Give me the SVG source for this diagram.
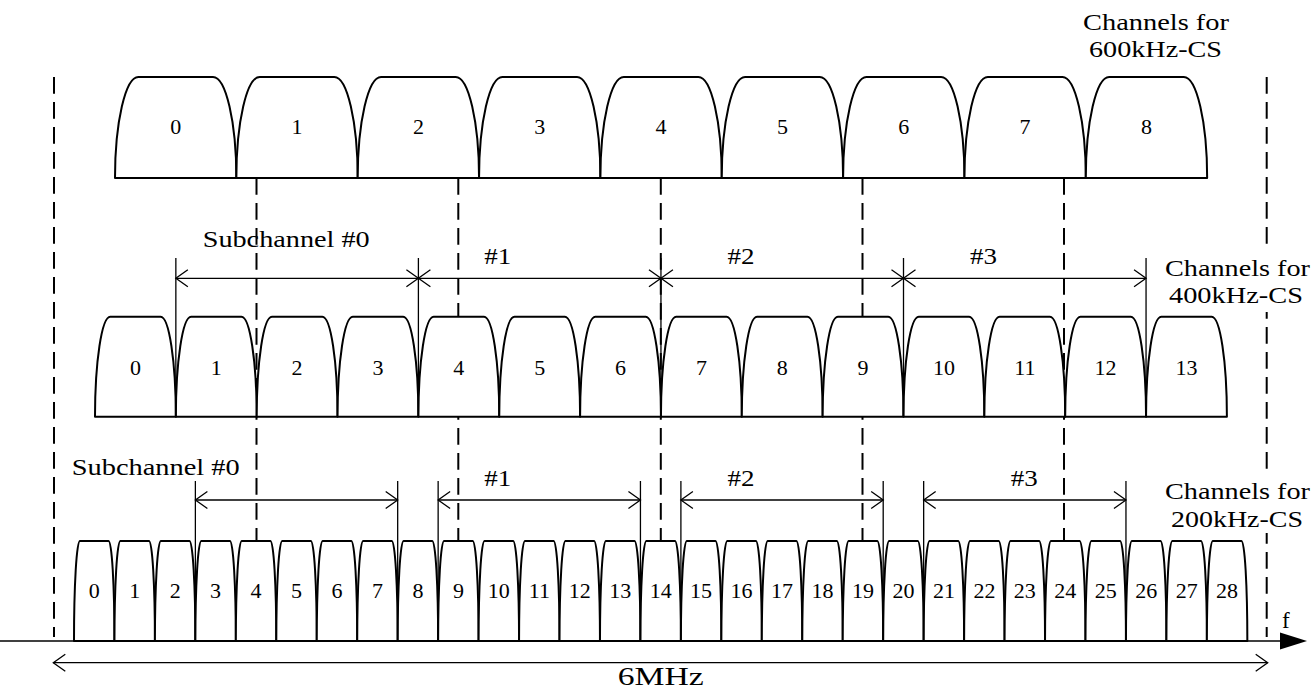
<svg xmlns="http://www.w3.org/2000/svg" xmlns:xlink="http://www.w3.org/1999/xlink" width="1315" height="692" viewBox="0 0 1315 692">
<style>
.ch{fill:#fff;stroke:#000;stroke-width:2;stroke-linejoin:round}
.dash{fill:none;stroke:#000;stroke-width:2;stroke-dasharray:16.7 8.3}
.thin{fill:none;stroke:#000;stroke-width:1.3}
.ar{fill:none;stroke:#000;stroke-width:1.3;marker-start:url(#chev);marker-end:url(#chev)}
.num{font-family:"Liberation Serif","Times New Roman",Times,serif;font-size:22px;text-anchor:middle;fill:#000}
.lbl{font-family:"Liberation Serif","Times New Roman",Times,serif;font-size:24px;fill:#000}
.bg{fill:#fff;stroke:none}
</style>
<defs>
<marker id="chev" markerUnits="userSpaceOnUse" viewBox="0 0 14 20" refX="13" refY="10" markerWidth="14" markerHeight="20" orient="auto-start-reverse" overflow="visible"><path d="M1,1.5 L13,10 L1,18.5" fill="none" stroke="#000" stroke-width="1.3"/></marker>
<marker id="tri" markerUnits="userSpaceOnUse" viewBox="0 0 27 18" refX="1" refY="9" markerWidth="27" markerHeight="18" orient="auto" overflow="visible"><path d="M0,0.5 L27,9 L0,17.5 Z" fill="#000"/></marker>
<path id="s600" class="ch" d="M0,178 A23.35,101 0 0 1 23.35,77 L98,77 A23.35,101 0 0 1 121.35,178 Z"/>
<path id="s400" class="ch" d="M0,416.7 A15.2,100 0 0 1 15.2,316.7 L65.65,316.7 A15.2,100 0 0 1 80.85,416.7 Z"/>
<path id="s200" class="ch" d="M0,641 A5.8,100 0 0 1 5.8,541 L34.66,541 A5.8,100 0 0 1 40.46,641 Z"/>
</defs>
<rect width="1315" height="692" fill="#fff"/>

<g id="guides">
<line class="dash" x1="54" y1="77" x2="54" y2="637"/>
<line class="dash" x1="1266.7" y1="77" x2="1266.7" y2="637"/>
<line class="dash" x1="256.5" y1="178" x2="256.5" y2="540"/>
<line class="dash" x1="458.3" y1="178" x2="458.3" y2="540"/>
<line class="dash" x1="660.8" y1="178" x2="660.8" y2="540"/>
<line class="dash" x1="862.5" y1="178" x2="862.5" y2="540"/>
<line class="dash" x1="1064" y1="178" x2="1064" y2="540"/>
</g>

<g id="row600">
<g id="c600-0"><use xlink:href="#s600" x="115"/><text class="num" x="175.7" y="134.3">0</text></g>
<g id="c600-1"><use xlink:href="#s600" x="236.35"/><text class="num" x="297" y="134.3">1</text></g>
<g id="c600-2"><use xlink:href="#s600" x="357.7"/><text class="num" x="418.4" y="134.3">2</text></g>
<g id="c600-3"><use xlink:href="#s600" x="479.05"/><text class="num" x="539.7" y="134.3">3</text></g>
<g id="c600-4"><use xlink:href="#s600" x="600.4"/><text class="num" x="661.1" y="134.3">4</text></g>
<g id="c600-5"><use xlink:href="#s600" x="721.75"/><text class="num" x="782.4" y="134.3">5</text></g>
<g id="c600-6"><use xlink:href="#s600" x="843.1"/><text class="num" x="903.8" y="134.3">6</text></g>
<g id="c600-7"><use xlink:href="#s600" x="964.45"/><text class="num" x="1025.1" y="134.3">7</text></g>
<g id="c600-8"><use xlink:href="#s600" x="1085.8"/><text class="num" x="1146.5" y="134.3">8</text></g>
</g>

<g id="row400">
<g id="c400-0"><use xlink:href="#s400" x="95"/><text class="num" x="135.4" y="375">0</text></g>
<g id="c400-1"><use xlink:href="#s400" x="175.85"/><text class="num" x="216.3" y="375">1</text></g>
<g id="c400-2"><use xlink:href="#s400" x="256.7"/><text class="num" x="297.1" y="375">2</text></g>
<g id="c400-3"><use xlink:href="#s400" x="337.55"/><text class="num" x="378" y="375">3</text></g>
<g id="c400-4"><use xlink:href="#s400" x="418.4"/><text class="num" x="458.8" y="375">4</text></g>
<g id="c400-5"><use xlink:href="#s400" x="499.25"/><text class="num" x="539.7" y="375">5</text></g>
<g id="c400-6"><use xlink:href="#s400" x="580.1"/><text class="num" x="620.5" y="375">6</text></g>
<g id="c400-7"><use xlink:href="#s400" x="660.95"/><text class="num" x="701.4" y="375">7</text></g>
<g id="c400-8"><use xlink:href="#s400" x="741.8"/><text class="num" x="782.2" y="375">8</text></g>
<g id="c400-9"><use xlink:href="#s400" x="822.65"/><text class="num" x="863.1" y="375">9</text></g>
<g id="c400-10"><use xlink:href="#s400" x="903.5"/><text class="num" x="943.9" y="375">10</text></g>
<g id="c400-11"><use xlink:href="#s400" x="984.35"/><text class="num" x="1024.8" y="375">11</text></g>
<g id="c400-12"><use xlink:href="#s400" x="1065.2"/><text class="num" x="1105.6" y="375">12</text></g>
<g id="c400-13"><use xlink:href="#s400" x="1146.05"/><text class="num" x="1186.5" y="375">13</text></g>
</g>

<g id="row200">
<g id="c200-0"><use xlink:href="#s200" x="74"/><text class="num" x="94.2" y="598">0</text></g>
<g id="c200-1"><use xlink:href="#s200" x="114.46"/><text class="num" x="134.7" y="598">1</text></g>
<g id="c200-2"><use xlink:href="#s200" x="154.92"/><text class="num" x="175.2" y="598">2</text></g>
<g id="c200-3"><use xlink:href="#s200" x="195.38"/><text class="num" x="215.6" y="598">3</text></g>
<g id="c200-4"><use xlink:href="#s200" x="235.84"/><text class="num" x="256.1" y="598">4</text></g>
<g id="c200-5"><use xlink:href="#s200" x="276.3"/><text class="num" x="296.5" y="598">5</text></g>
<g id="c200-6"><use xlink:href="#s200" x="316.76"/><text class="num" x="337" y="598">6</text></g>
<g id="c200-7"><use xlink:href="#s200" x="357.22"/><text class="num" x="377.5" y="598">7</text></g>
<g id="c200-8"><use xlink:href="#s200" x="397.68"/><text class="num" x="417.9" y="598">8</text></g>
<g id="c200-9"><use xlink:href="#s200" x="438.14"/><text class="num" x="458.4" y="598">9</text></g>
<g id="c200-10"><use xlink:href="#s200" x="478.6"/><text class="num" x="498.8" y="598">10</text></g>
<g id="c200-11"><use xlink:href="#s200" x="519.06"/><text class="num" x="539.3" y="598">11</text></g>
<g id="c200-12"><use xlink:href="#s200" x="559.52"/><text class="num" x="579.8" y="598">12</text></g>
<g id="c200-13"><use xlink:href="#s200" x="599.98"/><text class="num" x="620.2" y="598">13</text></g>
<g id="c200-14"><use xlink:href="#s200" x="640.44"/><text class="num" x="660.7" y="598">14</text></g>
<g id="c200-15"><use xlink:href="#s200" x="680.9"/><text class="num" x="701.1" y="598">15</text></g>
<g id="c200-16"><use xlink:href="#s200" x="721.36"/><text class="num" x="741.6" y="598">16</text></g>
<g id="c200-17"><use xlink:href="#s200" x="761.82"/><text class="num" x="782.1" y="598">17</text></g>
<g id="c200-18"><use xlink:href="#s200" x="802.28"/><text class="num" x="822.5" y="598">18</text></g>
<g id="c200-19"><use xlink:href="#s200" x="842.74"/><text class="num" x="863" y="598">19</text></g>
<g id="c200-20"><use xlink:href="#s200" x="883.2"/><text class="num" x="903.4" y="598">20</text></g>
<g id="c200-21"><use xlink:href="#s200" x="923.66"/><text class="num" x="943.9" y="598">21</text></g>
<g id="c200-22"><use xlink:href="#s200" x="964.12"/><text class="num" x="984.4" y="598">22</text></g>
<g id="c200-23"><use xlink:href="#s200" x="1004.58"/><text class="num" x="1024.8" y="598">23</text></g>
<g id="c200-24"><use xlink:href="#s200" x="1045.04"/><text class="num" x="1065.3" y="598">24</text></g>
<g id="c200-25"><use xlink:href="#s200" x="1085.5"/><text class="num" x="1105.7" y="598">25</text></g>
<g id="c200-26"><use xlink:href="#s200" x="1125.96"/><text class="num" x="1146.2" y="598">26</text></g>
<g id="c200-27"><use xlink:href="#s200" x="1166.42"/><text class="num" x="1186.7" y="598">27</text></g>
<g id="c200-28"><use xlink:href="#s200" x="1206.88"/><text class="num" x="1227.1" y="598">28</text></g>
</g>

<g id="connectors">
<line class="thin" x1="175.85" y1="258" x2="175.85" y2="416.7"/>
<line class="thin" x1="418.4" y1="258" x2="418.4" y2="416.7"/>
<line class="thin" x1="660.95" y1="258" x2="660.95" y2="416.7"/>
<line class="thin" x1="903.5" y1="258" x2="903.5" y2="416.7"/>
<line class="thin" x1="1146.05" y1="258" x2="1146.05" y2="416.7"/>
<line class="ar" x1="175.85" y1="278.3" x2="418.4" y2="278.3"/>
<line class="ar" x1="418.4" y1="278.3" x2="660.95" y2="278.3"/>
<line class="ar" x1="660.95" y1="278.3" x2="903.5" y2="278.3"/>
<line class="ar" x1="903.5" y1="278.3" x2="1146.05" y2="278.3"/>

<line class="thin" x1="195.38" y1="481" x2="195.38" y2="641"/>
<line class="thin" x1="397.68" y1="481" x2="397.68" y2="641"/>
<line class="thin" x1="438.14" y1="481" x2="438.14" y2="641"/>
<line class="thin" x1="640.44" y1="481" x2="640.44" y2="641"/>
<line class="thin" x1="680.9" y1="481" x2="680.9" y2="641"/>
<line class="thin" x1="883.2" y1="481" x2="883.2" y2="641"/>
<line class="thin" x1="923.66" y1="481" x2="923.66" y2="641"/>
<line class="thin" x1="1125.96" y1="481" x2="1125.96" y2="641"/>
<line class="ar" x1="195.38" y1="500" x2="397.68" y2="500"/>
<line class="ar" x1="438.14" y1="500" x2="640.44" y2="500"/>
<line class="ar" x1="680.9" y1="500" x2="883.2" y2="500"/>
<line class="ar" x1="923.66" y1="500" x2="1125.96" y2="500"/>

<line x1="0" y1="641" x2="1281" y2="641" stroke="#000" stroke-width="1.6" marker-end="url(#tri)"/>
<line class="ar" x1="53.3" y1="662.7" x2="1267.7" y2="662.7"/>
</g>

<g id="labels">
<text class="lbl" x="1083" y="29.5" textLength="146" lengthAdjust="spacingAndGlyphs">Channels for</text>
<text class="lbl" x="1089" y="57" textLength="133" lengthAdjust="spacingAndGlyphs">600kHz-CS</text>
<rect class="bg" x="1160" y="251" width="155" height="61"/>
<text class="lbl" x="1165" y="275.5" textLength="145" lengthAdjust="spacingAndGlyphs">Channels for</text>
<text class="lbl" x="1169" y="303" textLength="134" lengthAdjust="spacingAndGlyphs">400kHz-CS</text>
<rect class="bg" x="1160" y="477" width="155" height="56"/>
<text class="lbl" x="1165" y="499" textLength="145" lengthAdjust="spacingAndGlyphs">Channels for</text>
<text class="lbl" x="1171" y="527" textLength="132" lengthAdjust="spacingAndGlyphs">200kHz-CS</text>
<text class="lbl" x="202.7" y="246.7" textLength="167" lengthAdjust="spacingAndGlyphs">Subchannel #0</text>
<text class="lbl" x="484.3" y="264.3" textLength="27" lengthAdjust="spacingAndGlyphs">#1</text>
<text class="lbl" x="727.5" y="264.3" textLength="27" lengthAdjust="spacingAndGlyphs">#2</text>
<text class="lbl" x="970" y="264.3" textLength="27" lengthAdjust="spacingAndGlyphs">#3</text>
<text class="lbl" x="71.7" y="475" textLength="168" lengthAdjust="spacingAndGlyphs">Subchannel #0</text>
<text class="lbl" x="484.3" y="485.7" textLength="27" lengthAdjust="spacingAndGlyphs">#1</text>
<text class="lbl" x="727.5" y="485.7" textLength="27" lengthAdjust="spacingAndGlyphs">#2</text>
<text class="lbl" x="1010.7" y="485.7" textLength="27" lengthAdjust="spacingAndGlyphs">#3</text>
<text class="lbl" x="1282" y="628" style="font-size:23px">f</text>
<text class="lbl" x="617.7" y="685" style="font-size:26px" textLength="86" lengthAdjust="spacingAndGlyphs">6MHz</text>
</g>
</svg>
